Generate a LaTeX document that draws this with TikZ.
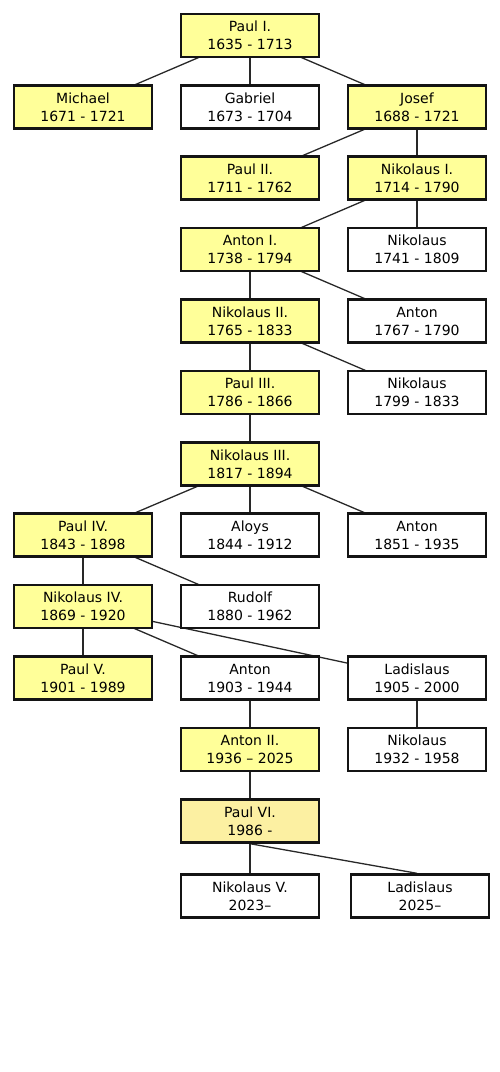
\documentclass[tikz,border=0pt]{standalone}
\usepackage{fontspec}
\setmainfont{DejaVu Sans}
\usetikzlibrary{backgrounds,calc}
\definecolor{famyellow}{RGB}{255,255,153}
\definecolor{famorange}{RGB}{252,240,162}
\definecolor{edgecol}{RGB}{20,20,20}
\definecolor{linkcol}{RGB}{40,40,40}
\tikzset{
  person/.style={draw=edgecol, line width=2.4pt, minimum width=138pt, minimum height=43pt,
    inner sep=0pt, align=center, font=\fontsize{14}{18}\selectfont, fill=white},
  ruler/.style={person, fill=famyellow},
  current/.style={person, fill=famorange},
  link/.style={draw=linkcol, line width=1.3pt},
}
\begin{document}
\begin{tikzpicture}[x=1pt,y=-1pt]
\useasboundingbox (0,0) rectangle (500,1072);
\node[ruler] (paulI) at (250,35.5) {Paul I.\\1635 - 1713};
\node[ruler] (michael) at (83,107) {Michael\\1671 - 1721};
\node[person] (gabriel) at (250,107) {Gabriel\\1673 - 1704};
\node[ruler] (josef) at (417,107) {Josef\\1688 - 1721};
\node[ruler] (paulII) at (250,178) {Paul II.\\1711 - 1762};
\node[ruler] (nikI) at (417,178) {Nikolaus I.\\1714 - 1790};
\node[ruler] (antonI) at (250,249.5) {Anton I.\\1738 - 1794};
\node[person] (nikA) at (417,249.5) {Nikolaus\\1741 - 1809};
\node[ruler] (nikII) at (250,321) {Nikolaus II.\\1765 - 1833};
\node[person] (antonA) at (417,321) {Anton\\1767 - 1790};
\node[ruler] (paulIII) at (250,392.5) {Paul III.\\1786 - 1866};
\node[person] (nikB) at (417,392.5) {Nikolaus\\1799 - 1833};
\node[ruler] (nikIII) at (250,464) {Nikolaus III.\\1817 - 1894};
\node[ruler] (paulIV) at (83,535) {Paul IV.\\1843 - 1898};
\node[person] (aloys) at (250,535) {Aloys\\1844 - 1912};
\node[person] (antonB) at (417,535) {Anton\\1851 - 1935};
\node[ruler] (nikIV) at (83,606.5) {Nikolaus IV.\\1869 - 1920};
\node[person] (rudolf) at (250,606.5) {Rudolf\\1880 - 1962};
\node[ruler] (paulV) at (83,678) {Paul V.\\1901 - 1989};
\node[person] (antonC) at (250,678) {Anton\\1903 - 1944};
\node[person] (ladA) at (417,678) {Ladislaus\\1905 - 2000};
\node[ruler] (antonII) at (250,749.5) {Anton II.\\1936 – 2025};
\node[person] (nikC) at (417,749.5) {Nikolaus\\1932 - 1958};
\node[current] (paulVI) at (250,821) {Paul VI.\\1986 -};
\node[person] (nikV) at (250,896) {Nikolaus V.\\2023–};
\node[person] (ladB) at (420,896) {Ladislaus\\2025–};
\coordinate (ladBin) at ($(ladB.north)+(-3,0)$);
\begin{pgfonlayer}{background}
\foreach \a/\b in {paulI/michael, paulI/gabriel, paulI/josef,
  josef/paulII, josef/nikI, nikI/antonI, nikI/nikA,
  antonI/nikII, antonI/antonA, nikII/paulIII, nikII/nikB,
  paulIII/nikIII, nikIII/paulIV, nikIII/aloys, nikIII/antonB,
  paulIV/nikIV, paulIV/rudolf, nikIV/paulV, nikIV/antonC, nikIV/ladA,
  antonC/antonII, ladA/nikC, antonII/paulVI, paulVI/nikV}
  \draw[link] (\a.center) -- (\b.center);
\draw[link] (paulVI.south) -- (ladBin);
\end{pgfonlayer}
\end{tikzpicture}
\end{document}
